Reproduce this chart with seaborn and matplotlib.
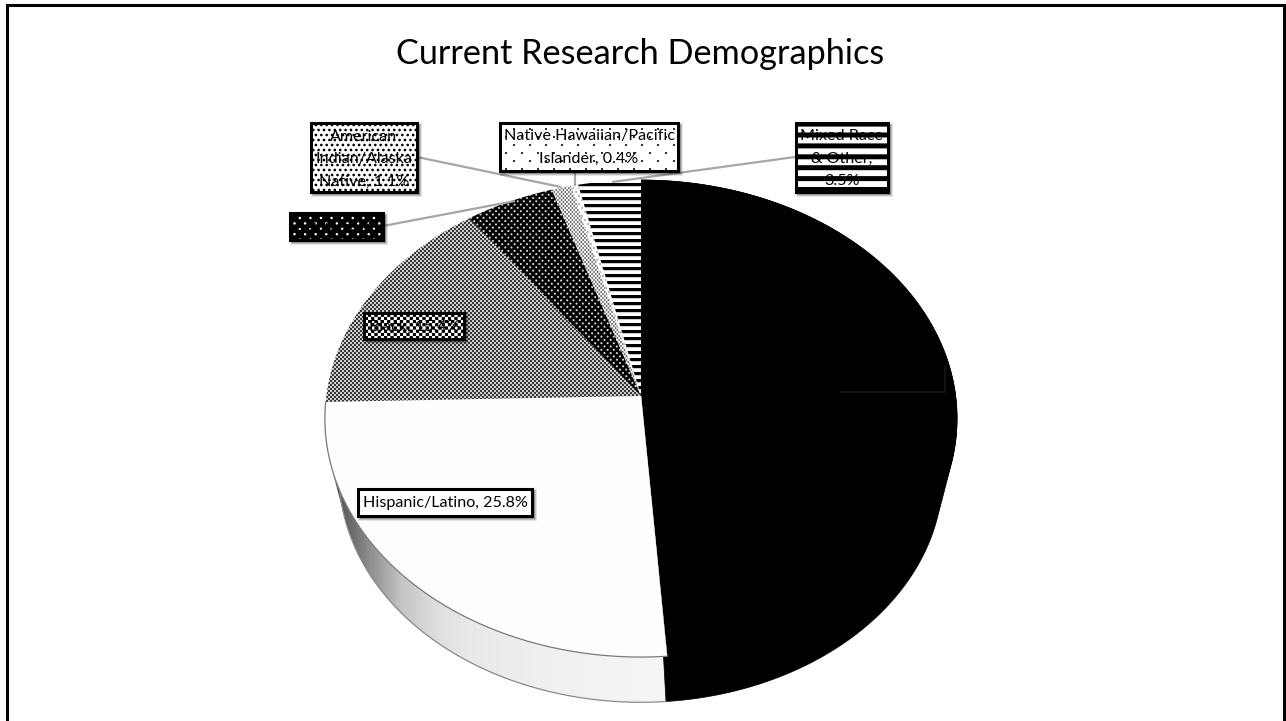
import numpy as np
import matplotlib
matplotlib.use("Agg")
import matplotlib.pyplot as plt
from matplotlib.patches import Polygon, Rectangle
import seaborn as sns

# Survey shares, clockwise from twelve o'clock
categories = ["White", "Hispanic/Latino", "Black", "Asian",
              "American Indian/Alaska Native", "Native Hawaiian/Pacific Islander",
              "Mixed Race & Other"]
shares = [48.8, 25.8, 15.4, 5.0, 1.1, 0.4, 3.5]
title_text = "Current Research Demographics"

W, H = 1286, 721
sns.set_theme(style="white", rc={"font.family": ["Lato", "DejaVu Sans"]})
fig = plt.figure(figsize=(W / 100, H / 100), dpi=100)
ax = fig.add_axes([0, 0, 1, 1])
ax.set_xlim(0, W)
ax.set_ylim(H, 0)
ax.axis("off")

yy, xx = np.mgrid[0:H, 0:W] + 0.5


# Pixel fill patterns -------------------------------------------------------
def dots(px, py, r, fg=0.0, bg=1.0, ox=0.0, oy=0.0):
    j = np.round((yy - oy) / py)
    dx = ((xx - ox - (j % 2) * px / 2 + px / 2) % px) - px / 2
    dy = (yy - oy) - j * py
    a = np.clip(r + 0.5 - np.hypot(dx, dy), 0, 1)
    return bg + (fg - bg) * a


def checker(p, lo=0.0, hi=1.0):
    s = np.sin(2 * np.pi * xx / p) * np.sin(2 * np.pi * yy / p)
    return lo + (hi - lo) * np.clip(0.5 + 2.2 * s, 0, 1)


def stripes(p, dark, oy=0.0):
    t = (yy - oy) % p
    return np.clip(np.abs(t - dark / 2) - dark / 2 + 0.5, 0, 1)


def fill_pattern(patch, pattern, zorder):
    ax.add_patch(patch)
    im = ax.imshow(pattern, cmap="gray", vmin=0, vmax=1, extent=(0, W, H, 0),
                   interpolation="nearest", aspect="auto", zorder=zorder)
    im.set_clip_path(patch)


def hull(points):
    # Monotone-chain convex hull of the wall's upper and lower rims
    pts = sorted(map(tuple, points))

    def half(seq):
        out = []
        for p in seq:
            while len(out) > 1 and ((out[-1][0] - out[-2][0]) * (p[1] - out[-2][1])
                                    - (out[-1][1] - out[-2][1]) * (p[0] - out[-2][0])) <= 0:
                out.pop()
            out.append(p)
        return out[:-1]

    return np.array(half(pts) + half(pts[::-1]))


# Perspective projection of the pie disc ------------------------------------
CX, CY, A, B, P = 641.0, 396.0, 314.7, 236.4, 0.0944
DROP, SHRINK = 57.0, 0.955


def project(phi, s=1.0, dy=0.0):
    x, y = np.sin(phi), np.cos(phi)
    w = 1 + P * y
    return np.column_stack([CX + s * A * x / w, CY + dy - s * B * y / w])


edges = np.cumsum([0.0] + shares) / 100 * 2 * np.pi
arcs = [np.linspace(a, b, 200) for a, b in zip(edges[:-1], edges[1:])]

# Side wall of the disc
grad = sns.blend_palette(["#4d4d4d", "#8c8c8c", "#c4c4c4", "#dedede", "#e8e8e8", "#ececec",
                          "#efefef", "#f1f1f1", "#f3f3f3", "#f4f4f4", "#f5f5f5"], as_cmap=True)
side_pts = hull(np.vstack([project(arcs[1]), project(arcs[1], SHRINK, DROP)]))
side = Polygon(side_pts, closed=True, fc="none", ec="none")
ax.add_patch(side)
ramp = np.clip((xx[0] - 335) / (667 - 335), 0, 1)[None, :]
im = ax.imshow(ramp, cmap=grad, vmin=0, vmax=1, extent=(0, W, H, 0), aspect="auto", zorder=1)
im.set_clip_path(side)
ax.plot(*project(arcs[1], SHRINK, DROP).T, color="#8a8a8a", lw=0.9, zorder=1.5)

black_side = hull(np.vstack([project(arcs[0]), project(arcs[0], SHRINK, DROP)]))
ax.add_patch(Polygon(black_side, closed=True, fc="black", ec="black", lw=0.5, zorder=1.2))

# Top face of the disc
apex = np.array([[CX, CY]])
slice_fills = [None, None, checker(4.0, 0.22, 0.8), dots(6.2, 3.3, 1.0, 0.85, 0.0),
               dots(3.6, 2.0, 0.8, 0.3, 0.95), dots(6.0, 4.0, 0.6, 0.3, 1.0),
               stripes(7.0, 3.2, oy=1.0)]
solid_fills = ["black", "#fefefe"]
for i, arc in enumerate(arcs):
    poly = Polygon(np.vstack([apex, project(arc)]), closed=True, fc="none", ec="none")
    if slice_fills[i] is None:
        poly.set(fc=solid_fills[i], ec=solid_fills[i], lw=0.3, zorder=2)
        ax.add_patch(poly)
    else:
        fill_pattern(poly, slice_fills[i], 2)
ax.plot(*project(arcs[1]).T, color="#7a7a7a", lw=0.9, zorder=2.5)

# Leader lines
leaders = [((417, 157), (561, 187)), ((575, 171), (575, 186)),
           ((383, 226), (515, 201)), ((795, 157), (612, 182))]
for a, b in leaders:
    ax.plot(*zip(a, b), color="#a6a6a6", lw=1.6, zorder=3, solid_capstyle="butt")
ax.plot([840, 945, 945], [392, 392, 366], color="#171717", lw=1.2, zorder=3)


# Data labels ---------------------------------------------------------------
def label(text, box, pattern, dy=0.5):
    x0, y0, x1, y1 = box
    for grow, alpha in [(2.5, 0.10), (1.5, 0.16), (0.5, 0.22)]:
        ax.add_patch(Rectangle((x0 + 2 - grow, y0 + 2 - grow), x1 - x0 + 2 * grow, y1 - y0 + 2 * grow,
                               fc="black", ec="none", alpha=alpha, zorder=4))
    fill_pattern(Rectangle((x0, y0), x1 - x0, y1 - y0, fc="none", ec="none"), pattern, 5)
    ax.add_patch(Rectangle((x0, y0), x1 - x0, y1 - y0, fc="none", ec="black", lw=2.2, zorder=6))
    ax.text((x0 + x1) / 2, (y0 + y1) / 2 + dy, text, ha="center", va="center", fontsize=11.6,
            color="black", linespacing=1.8, zorder=7)


white = np.ones((H, W))
label(f"{categories[1]}, {shares[1]}%", (358, 489, 532, 516), white)
label(f"{categories[2]}, {shares[2]}%", (364, 313, 464, 339), checker(6.4))
label(f"{categories[3]}, {shares[3]:.1f}%", (290, 213, 383, 240),
      dots(10.6, 5.4, 1.2, 1.0, 0.0, ox=3, oy=2))
label(f"American\nIndian/Alaska\nNative, {shares[4]}%", (311, 123, 417, 192),
      dots(5.4, 5.0, 1.3, 0.0, 1.0), dy=2)
label(f"Native Hawaiian/Pacific\nIslander, {shares[5]}%", (500, 123, 678, 171),
      dots(16.0, 8.0, 1.0, 0.0, 1.0, ox=2, oy=1), dy=0.5)
label(f"Mixed Race\n& Other,\n{shares[6]}%", (796, 123, 888, 192),
      stripes(10.9, 5.0, oy=132.5 % 10.9), dy=1)

# Title and slide frame
ax.text(640, 54, title_text, ha="center", va="center", fontsize=24.7, color="black", zorder=8)
ax.plot([7, 7, 1283.5, 1283.5], [H, 5, 5, H], color="black", lw=2.2, zorder=8,
        solid_joinstyle="miter")

fig.savefig("out.png", dpi=100)
